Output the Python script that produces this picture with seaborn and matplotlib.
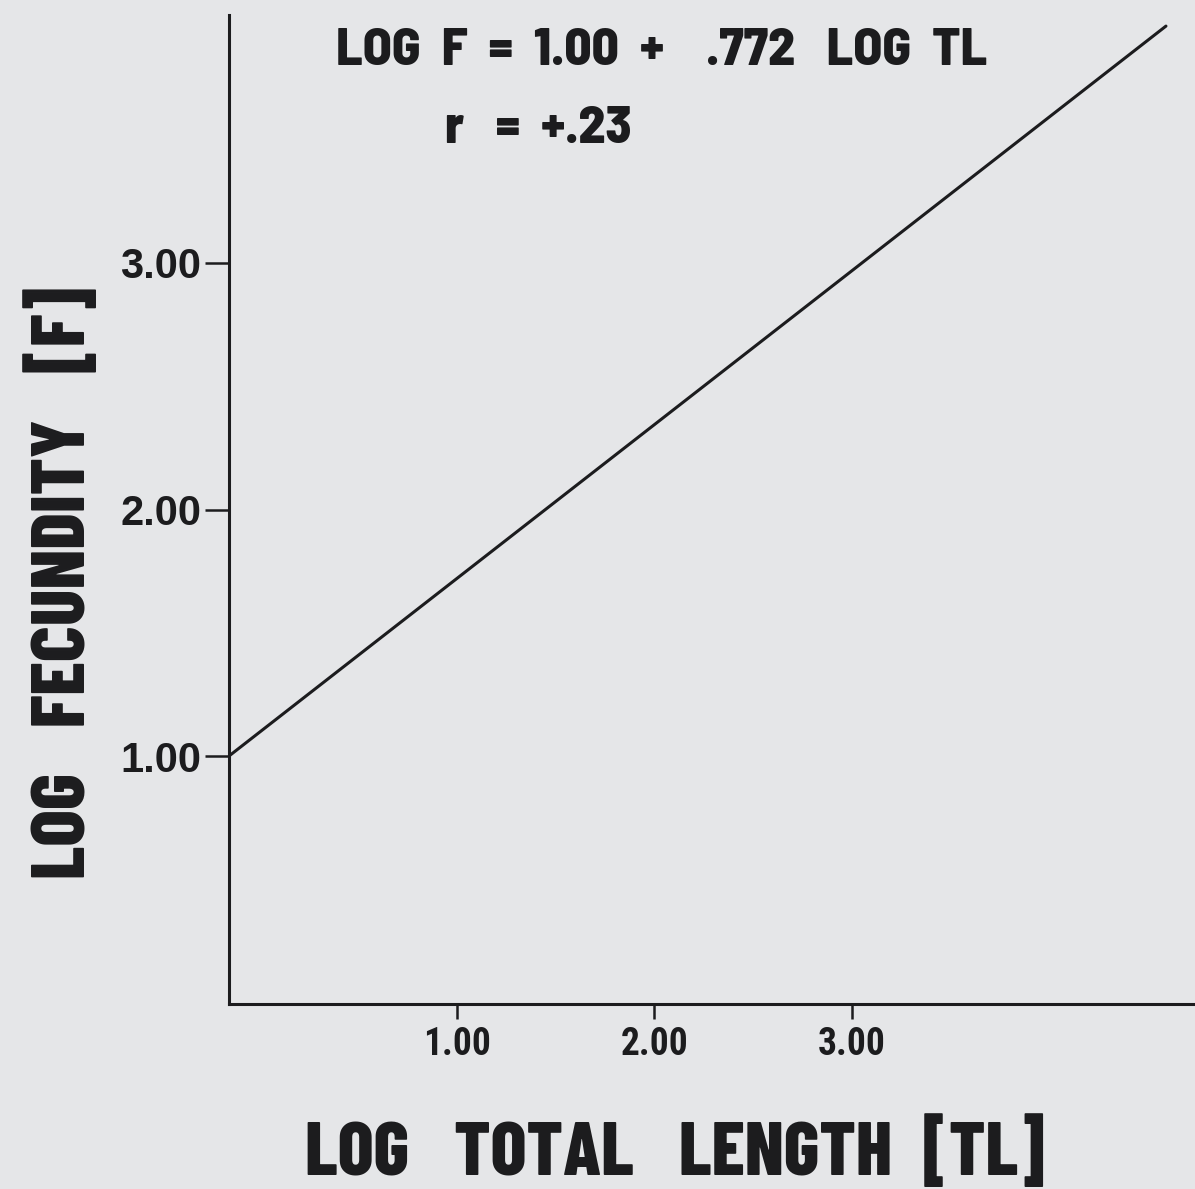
import matplotlib
matplotlib.use("Agg")
import matplotlib.pyplot as plt
import seaborn as sns
import pandas as pd

# Regression line endpoints (log total length, log fecundity)
log_tl = [-0.154, 4.59]
log_f = [1.00, 3.961]

x_ticks = [1.0, 2.0, 3.0]
x_tick_labels = ["1.00", "2.00", "3.00"]
y_ticks = [1.0, 2.0, 3.0]
y_tick_labels = ["1.00", "2.00", "3.00"]

equation = "LOG  F  =  1.00  +    .772   LOG  TL"
corr = "r   =  +.23"
x_title = "LOG   TOTAL   LENGTH  [TL]"
y_title = "LOG   FECUNDITY   [F]"

paper = "#e5e6e8"
ink = "#1c1c1e"
head_font = ["Barlow Condensed", "Francois One", "DejaVu Sans"]
eq_font = ["Barlow Semi Condensed", "Barlow Condensed", "DejaVu Sans"]
ytick_font = ["Liberation Sans", "DejaVu Sans"]
xtick_font = ["Roboto Condensed", "Liberation Sans", "DejaVu Sans"]

sns.set_theme(style="white")
plt.rcParams["font.family"] = ytick_font

fig = plt.figure(figsize=(11.95, 11.89), dpi=100, facecolor=paper)
ax = fig.add_axes([229 / 1195, 185 / 1189, 1 - 229 / 1195, (1174 - 185) / 1189])
ax.set_facecolor(paper)

df = pd.DataFrame({"tl": log_tl, "f": log_f})
sns.lineplot(data=df, x="tl", y="f", ax=ax, color=ink, linewidth=2.2)

ax.set_xlim(-0.154, 4.737)
ax.set_ylim(-0.006, 4.006)

ax.set_xticks(x_ticks)
ax.set_xticklabels(x_tick_labels)
ax.set_yticks(y_ticks)
ax.set_yticklabels(y_tick_labels)
ax.tick_params(axis="x", bottom=True, direction="out", length=11, width=1.8, color=ink,
               pad=5, labelsize=27, labelcolor=ink)
ax.tick_params(axis="y", left=True, direction="out", length=17, width=1.8, color=ink,
               pad=3, labelsize=30, labelcolor=ink)
for lab in ax.get_yticklabels():
    lab.set_fontweight("bold")
for lab in ax.get_xticklabels():
    lab.set_fontweight("bold")
    lab.set_family(xtick_font)

for side in ("top", "right"):
    ax.spines[side].set_visible(False)
for side in ("left", "bottom"):
    ax.spines[side].set_color(ink)
    ax.spines[side].set_linewidth(2.2)

ax.set_xlabel("")
ax.set_ylabel("")

fig.text(662 / 1195, 1 - 51 / 1189, equation, ha="center", va="center",
         fontsize=38, color=ink, family=eq_font, fontweight=800)
fig.text(445 / 1195, 1 - 129 / 1189, corr, ha="left", va="center",
         fontsize=38, color=ink, family=eq_font, fontweight=800)
fig.text(675 / 1195, 1 - 1152 / 1189, x_title, ha="center", va="center",
         fontsize=54, color=ink, family=head_font, fontweight=800)
fig.text(62 / 1195, 1 - 583 / 1189, y_title, ha="center", va="center",
         rotation=90, fontsize=55, color=ink, family=head_font, fontweight=800)

fig.savefig("out.png", dpi=100, facecolor=paper)
